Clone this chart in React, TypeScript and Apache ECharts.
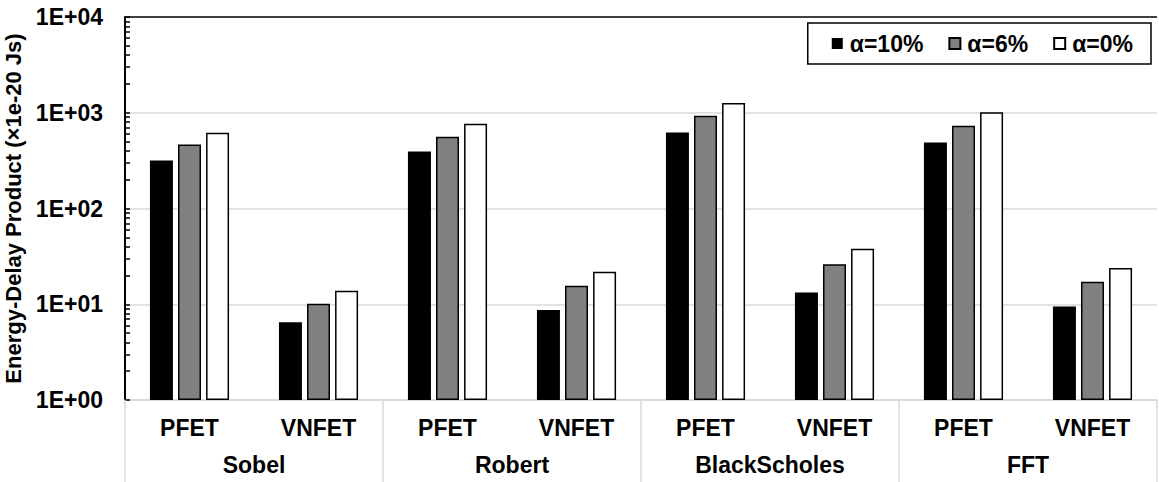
import React, { useEffect, useRef } from "react";
import * as echarts from "echarts";

const categories = ["PFET", "VNFET", "PFET", "VNFET", "PFET", "VNFET", "PFET", "VNFET"];
const groups = ["Sobel", "Robert", "BlackScholes", "FFT"];
const seriesNames = ["α=10%", "α=6%", "α=0%"];
const alpha10 = [318, 6.5, 394, 8.7, 623, 13.3, 490, 9.5];
const alpha6 = [467, 10.1, 561, 15.6, 929, 26.1, 730, 17.2];
const alpha0 = [617, 13.8, 766, 21.8, 1268, 37.9, 1014, 23.9];

const FONT = "'Liberation Sans', Arial, sans-serif";

export default function App() {
  const ref = useRef<HTMLDivElement>(null);
  useEffect(() => {
    if (!ref.current) return;
    const chart = echarts.init(ref.current, undefined, { renderer: "svg" });
    const barBase = { type: "bar" as const, barWidth: 23, barGap: "22%", xAxisIndex: 0, yAxisIndex: 0 };
    chart.setOption({
      animation: false,
      backgroundColor: "#ffffff",
      textStyle: { fontFamily: FONT },
      grid: { left: 125, right: 2, top: 17, bottom: 82, containLabel: false, outerBoundsMode: "none" },
      legend: {
        right: 8,
        top: 23,
        orient: "horizontal",
        itemWidth: 11,
        itemHeight: 11,
        itemGap: 25,
        padding: [9, 18, 9, 24],
        borderColor: "#000",
        borderWidth: 1.5,
        icon: "rect",
        textStyle: { fontFamily: FONT, fontSize: 23, fontWeight: "bold", color: "#000", padding: [0, 0, 0, 2] },
        data: seriesNames,
      },
      xAxis: [
        {
          type: "category",
          data: categories,
          position: "bottom",
          axisLine: { show: true, lineStyle: { color: "#d9d9d9", width: 1.5 } },
          axisTick: { show: false },
          axisLabel: { interval: 0, margin: 16, fontFamily: FONT, fontSize: 23, fontWeight: "bold", color: "#000" },
          splitLine: { show: false },
        },
        {
          type: "category",
          data: groups,
          position: "bottom",
          axisLine: { show: false },
          axisTick: { show: true, interval: 0, length: 82, lineStyle: { color: "#d9d9d9", width: 1.5 } },
          axisLabel: { interval: 0, margin: 53, fontFamily: FONT, fontSize: 23, fontWeight: "bold", color: "#000" },
          splitLine: { show: false },
        },
      ],
      yAxis: [
        {
          type: "log",
          logBase: 10,
          min: 1,
          max: 10000,
          position: "left",
          name: "Energy-Delay Product (×1e-20 Js)",
          nameLocation: "middle",
          nameGap: 95,
          nameTextStyle: { fontFamily: FONT, fontSize: 22, fontWeight: "bold", color: "#000" },
          axisLine: { show: true, lineStyle: { color: "#000", width: 2 } },
          axisTick: { show: true, inside: true, length: 5, lineStyle: { color: "#000", width: 1.5 } },
          minorTick: { show: true, splitNumber: 9, length: 5, lineStyle: { color: "#000", width: 1.5 } },
          axisLabel: {
            margin: 22,
            fontFamily: FONT,
            fontSize: 23,
            fontWeight: "bold",
            color: "#000",
            formatter: (v: number) => "1E+" + String(Math.round(Math.log10(v))).padStart(2, "0"),
          },
          splitLine: { show: false },
        },
        {
          type: "value",
          min: 0,
          max: 4,
          interval: 1,
          position: "right",
          axisLine: { show: false },
          axisTick: { show: false },
          axisLabel: { show: false },
          splitLine: {
            show: true,
            lineStyle: { color: ["#d9d9d9", "#d9d9d9", "#d9d9d9", "#d9d9d9", "#000000"], width: 1.5 },
          },
        },
      ],
      series: [
        { ...barBase, name: seriesNames[0], data: alpha10, itemStyle: { color: "#000000", borderColor: "#000", borderWidth: 0 } },
        { ...barBase, name: seriesNames[1], data: alpha6, itemStyle: { color: "#808080", borderColor: "#000", borderWidth: 1.5 } },
        { ...barBase, name: seriesNames[2], data: alpha0, itemStyle: { color: "#ffffff", borderColor: "#000", borderWidth: 1.5 } },
      ],
    });
    return () => chart.dispose();
  }, []);
  return <div ref={ref} style={{ position: "fixed", left: 0, top: 0, width: 1159, height: 482 }} />;
}
